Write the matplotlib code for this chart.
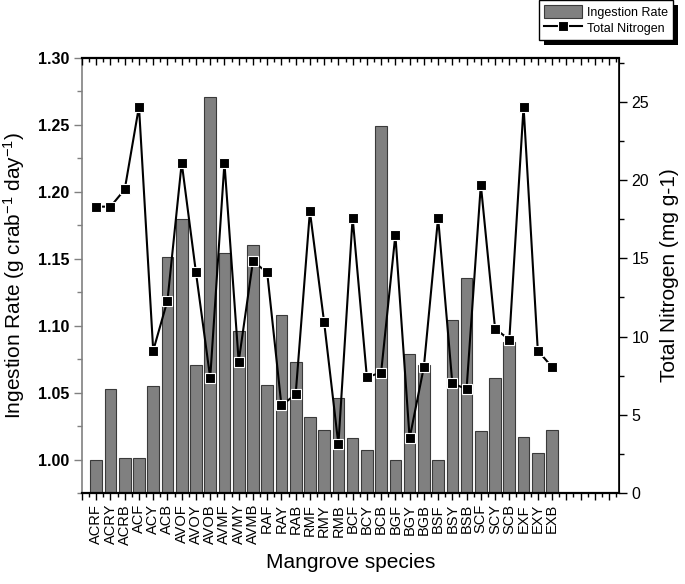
import matplotlib
matplotlib.use("Agg")
import matplotlib.pyplot as plt
from matplotlib.ticker import MultipleLocator, FixedLocator, FuncFormatter
from matplotlib.patches import Rectangle
import numpy as np

plt.rcParams['font.family'] = ['Liberation Sans', 'DejaVu Sans']
plt.rcParams['mathtext.fontset'] = 'custom'
plt.rcParams['mathtext.rm'] = 'Liberation Sans'
plt.rcParams['mathtext.it'] = 'Liberation Sans:italic'
plt.rcParams['mathtext.bf'] = 'Liberation Sans:bold'

species = ["ACRF", "ACRY", "ACRB", "ACF", "ACY", "ACB", "AVOF", "AVOY", "AVOB",
           "AVMF", "AVMY", "AVMB", "RAF", "RAY", "RAB", "RMF", "RMY", "RMB",
           "BCF", "BCY", "BCB", "BGF", "BGY", "BGB", "BSF", "BSY", "BSB",
           "SCF", "SCY", "SCB", "EXF", "EXY", "EXB"]

ingestion_rate = [1.000, 1.053, 1.001, 1.001, 1.055, 1.151, 1.180, 1.071, 1.271,
                  1.154, 1.096, 1.160, 1.056, 1.108, 1.073, 1.032, 1.022, 1.046,
                  1.016, 1.007, 1.249, 1.000, 1.079, 1.071, 1.000, 1.104, 1.136,
                  1.021, 1.061, 1.088, 1.017, 1.005, 1.022]

total_nitrogen = [18.3, 18.3, 19.4, 24.7, 9.1, 12.3, 21.1, 14.1, 7.35,
                  21.1, 8.4, 14.8, 14.1, 5.6, 6.3, 18.0, 10.9, 3.1,
                  17.6, 7.4, 7.7, 16.5, 3.5, 8.05, 17.6, 7.0, 6.65,
                  19.7, 10.5, 9.8, 24.7, 9.1, 8.05]

left_ticks = [1.00, 1.05, 1.10, 1.15, 1.20, 1.25, 1.30]

x = np.arange(1, len(species) + 1)

fig = plt.figure(figsize=(6.85, 5.84), dpi=100)
ax1 = fig.add_axes([82/685, 1 - 493/584, (619-82)/685, (493-58)/584])
ax2 = ax1.twinx()

bars = ax1.bar(x, ingestion_rate, width=0.82, color='#808080',
               edgecolor='#3a3a3a', linewidth=0.8, label='Ingestion Rate', zorder=2)
line, = ax2.plot(x, total_nitrogen, color='black', linewidth=1.5, marker='s',
                 markersize=7, markerfacecolor='black', markeredgecolor='white',
                 markeredgewidth=0.8, label='Total Nitrogen')

ax1.set_xlim(0, 37.7)
ax1.set_ylim(0.975, 1.30)
ax2.set_ylim(0, 27.8)

# left axis
ax1.yaxis.set_major_locator(FixedLocator(left_ticks))
ax1.yaxis.set_minor_locator(MultipleLocator(0.025))
ax1.yaxis.set_major_formatter(FuncFormatter(lambda v, p: f'{v:.2f}'))
ax1.tick_params(axis='y', which='major', direction='out', length=6, width=1.0,
                color='#808080', pad=3, labelsize=11.5)
ax1.tick_params(axis='y', which='minor', direction='out', length=3.5, width=1.0,
                color='#808080')
ax1.spines['left'].set_color('#808080')
ax1.spines['left'].set_linewidth(1.2)

# x axis: bottom ticks outward (ax1), top ticks inward (ax2 shares x)
ax1.xaxis.set_major_locator(FixedLocator(np.arange(0, 38)))
ax1.xaxis.set_minor_locator(MultipleLocator(0.5))
ax1.xaxis.set_major_formatter(FuncFormatter(
    lambda v, p: species[int(round(v)) - 1] if 1 <= int(round(v)) <= len(species) else ''))
ax1.tick_params(axis='x', which='major', direction='out', length=5, width=1.0,
                top=False, bottom=True, pad=3, labelsize=10.5, labelrotation=90)
ax1.tick_params(axis='x', which='minor', direction='out', length=3, width=1.0,
                top=False, bottom=True)
ax1.spines['bottom'].set_linewidth(1.6)
ax1.spines['top'].set_linewidth(1.6)

ax2.xaxis.set_visible(True)
ax2.tick_params(axis='x', which='major', direction='in', length=5, width=1.0,
                top=True, bottom=False, labeltop=False, labelbottom=False)
ax2.tick_params(axis='x', which='minor', direction='in', length=3, width=1.0,
                top=True, bottom=False)

# right axis
ax2.yaxis.set_major_locator(MultipleLocator(5))
ax2.yaxis.set_minor_locator(MultipleLocator(2.5))
ax2.tick_params(axis='y', which='major', direction='out', length=6, width=1.0,
                labelsize=11.5, pad=3)
ax2.tick_params(axis='y', which='minor', direction='out', length=3.5, width=1.0)
ax2.spines['right'].set_linewidth(1.2)
for s in ['left', 'top', 'bottom']:
    ax2.spines[s].set_visible(False)

ax1.set_ylabel('Ingestion Rate (g crab$^{-1}$ day$^{-1}$)', fontsize=15, labelpad=8)
ax2.set_ylabel('Total Nitrogen (mg g-1)', fontsize=15, labelpad=8)
ax1.set_xlabel('Mangrove species', fontsize=15, labelpad=6)

fig.canvas.draw()
for lab in ax1.get_yticklabels():
    lab.set_fontweight('bold')

leg = fig.legend([bars, line], ['Ingestion Rate', 'Total Nitrogen'],
                 loc='upper right', bbox_to_anchor=(0.982, 1.0),
                 fontsize=9, frameon=True, fancybox=False, framealpha=1.0,
                 handlelength=3.0, handleheight=1.2, borderpad=0.4,
                 labelspacing=0.2, handletextpad=0.4, borderaxespad=0.0)
leg.get_frame().set_edgecolor('black')
leg.get_frame().set_linewidth(1.0)
leg.set_zorder(10)

fig.canvas.draw()
bb = leg.get_window_extent()
inv = fig.transFigure.inverted()
(x0, y0), (x1, y1) = inv.transform([[bb.x0 + 5, bb.y0 - 5], [bb.x1 + 5, bb.y1 - 5]])
fig.add_artist(Rectangle((x0, y0), x1 - x0, y1 - y0, transform=fig.transFigure,
                         facecolor='black', edgecolor='none', zorder=9))

fig.savefig('out.png', dpi=100)
